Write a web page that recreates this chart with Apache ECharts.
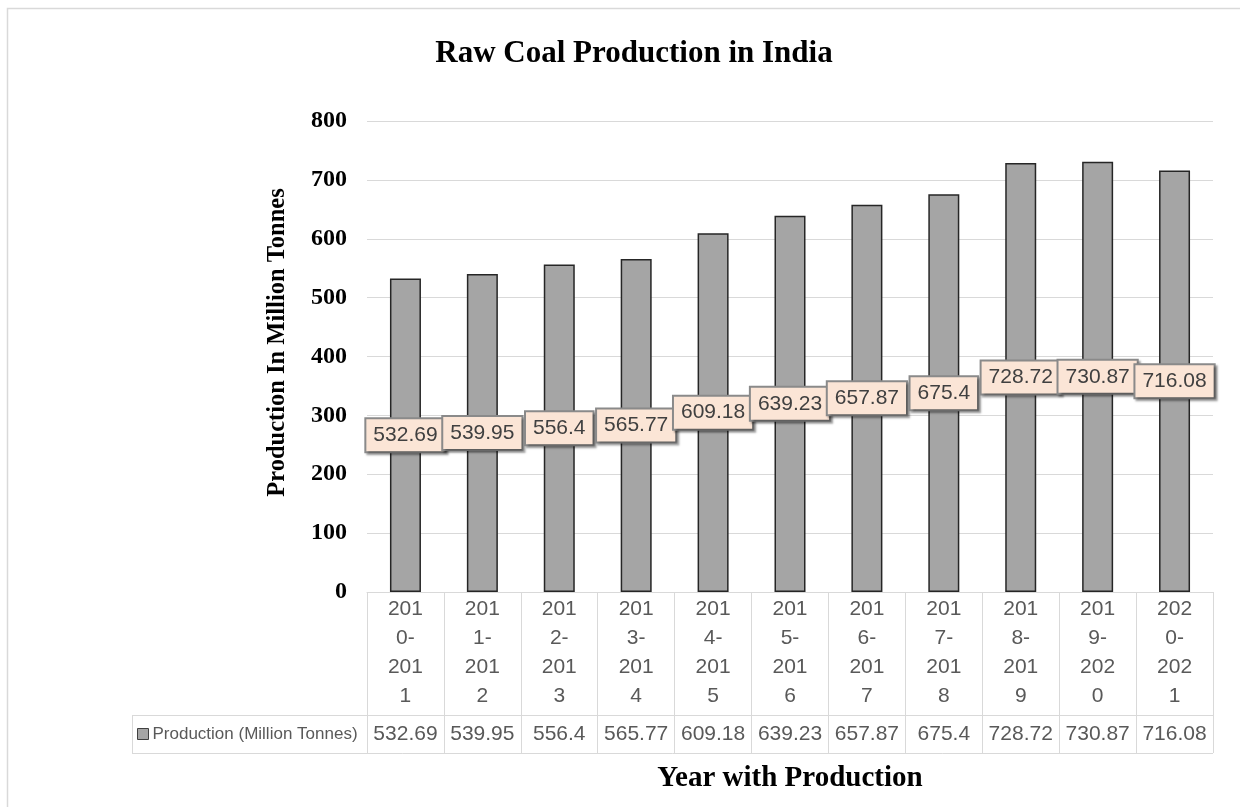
<!DOCTYPE html>
<html>
<head>
<meta charset="utf-8">
<script src="https://cdn.jsdelivr.net/npm/echarts@6/dist/echarts.min.js"></script>
<style>html,body{margin:0;padding:0;background:#fff;}#chart{width:1240px;height:807px;}</style>
</head>
<body>
<div id="chart"></div>
<script>
const categories = ["2010-2011","2011-2012","2012-2013","2013-2014","2014-2015","2015-2016","2016-2017","2017-2018","2018-2019","2019-2020","2020-2021"];
const production = [532.69, 539.95, 556.4, 565.77, 609.18, 639.23, 657.87, 675.4, 728.72, 730.87, 716.08];
const yTicks = [0, 100, 200, 300, 400, 500, 600, 700, 800];
const seriesName = "Production (Million Tonnes)";

const chart = echarts.init(document.getElementById('chart'));
const serif = '"Liberation Serif", "Times New Roman", serif';
const sans = '"Liberation Sans", Arial, sans-serif';
const tableColor = '#d9d9d9';

function wrap3(s) {
  // Excel wraps the narrow cell text: "201","0-","201","1"
  return [s.slice(0,3), s.slice(3,5), s.slice(5,8), s.slice(8)].join('\n');
}

const option = {
  backgroundColor: '#ffffff',
  animation: false,
  title: {
    text: 'Raw Coal Production in India',
    left: 629, top: 33, textAlign: 'center',
    textStyle: { fontFamily: serif, fontWeight: 'bold', fontSize: 31, color: '#000' }
  },
  legend: {
    data: [seriesName],
    left: 137, top: 724, padding: 0,
    icon: 'rect', itemWidth: 11, itemHeight: 11, itemGap: 0,
    itemStyle: { color: '#a5a5a5', borderColor: '#404040', borderWidth: 1 },
    textStyle: { fontFamily: sans, fontSize: 17, color: '#595959', lineHeight: 20, padding: [0,0,0,-1] }
  },
  grid: { left: 367, right: 27, top: 121, bottom: 215, containLabel: false },
  xAxis: [
    {
      type: 'category', data: categories, position: 'bottom',
      axisLine: { show: true, lineStyle: { color: tableColor, width: 1 } },
      axisTick: { show: true, length: 123, lineStyle: { color: tableColor, width: 1 } },
      axisLabel: {
        formatter: wrap3, interval: 0, margin: 3,
        fontFamily: sans, fontSize: 21, lineHeight: 29, color: '#595959'
      },
      splitLine: { show: false }
    },
    {
      type: 'category', data: production.map(String), position: 'bottom', offset: 123,
      axisLine: { show: true, lineStyle: { color: tableColor, width: 1 } },
      axisTick: { show: true, length: 38, lineStyle: { color: tableColor, width: 1 } },
      axisLabel: { interval: 0, margin: 0, fontFamily: sans, fontSize: 21, lineHeight: 38, color: '#595959' },
      name: 'Year with Production', nameLocation: 'middle', nameGap: 49,
      nameTextStyle: { fontFamily: serif, fontWeight: 'bold', fontSize: 29, color: '#000' }
    }
  ],
  yAxis: {
    type: 'value', min: yTicks[0], max: yTicks[yTicks.length-1], interval: 100,
    name: 'Production In Million Tonnes', nameLocation: 'middle', nameGap: 77, nameRotate: 90,
    nameTextStyle: { fontFamily: serif, fontWeight: 'bold', fontSize: 24.5, color: '#000', padding: [0, 0, 0, 28] },
    axisLine: { show: false }, axisTick: { show: false },
    axisLabel: { margin: 20, fontFamily: serif, fontWeight: 'bold', fontSize: 24, color: '#000' },
    splitLine: { lineStyle: { color: tableColor, width: 1 } }
  },
  series: [{
    name: seriesName, type: 'bar', data: production, barWidth: 31, xAxisIndex: 0,
    itemStyle: { color: '#a5a5a5', borderColor: '#262626', borderWidth: 1.5 },
    label: {
      show: true, position: 'inside',
      fontFamily: sans, fontSize: 21, color: '#404040',
      backgroundColor: '#fbe5d6', borderColor: '#8a8a8a', borderWidth: 2,
      padding: [6, 7, 5, 7],
      shadowColor: 'rgba(0,0,0,0.35)', shadowBlur: 2, shadowOffsetX: 2, shadowOffsetY: 2
    }
  }],
  graphic: [
    { type: 'rect', silent: true, shape: { x: 7.5, y: 8.5, width: 1300, height: 900 },
      style: { fill: null, stroke: tableColor, lineWidth: 1.5 } },
    { type: 'line', silent: true, shape: { x1: 132, y1: 715.5, x2: 367, y2: 715.5 },
      style: { stroke: tableColor, lineWidth: 1 } },
    { type: 'line', silent: true, shape: { x1: 132, y1: 753.5, x2: 1213, y2: 753.5 },
      style: { stroke: tableColor, lineWidth: 1 } },
    { type: 'line', silent: true, shape: { x1: 132.5, y1: 715, x2: 132.5, y2: 754 },
      style: { stroke: tableColor, lineWidth: 1 } }
  ]
};
chart.setOption(option);
</script>
</body>
</html>
